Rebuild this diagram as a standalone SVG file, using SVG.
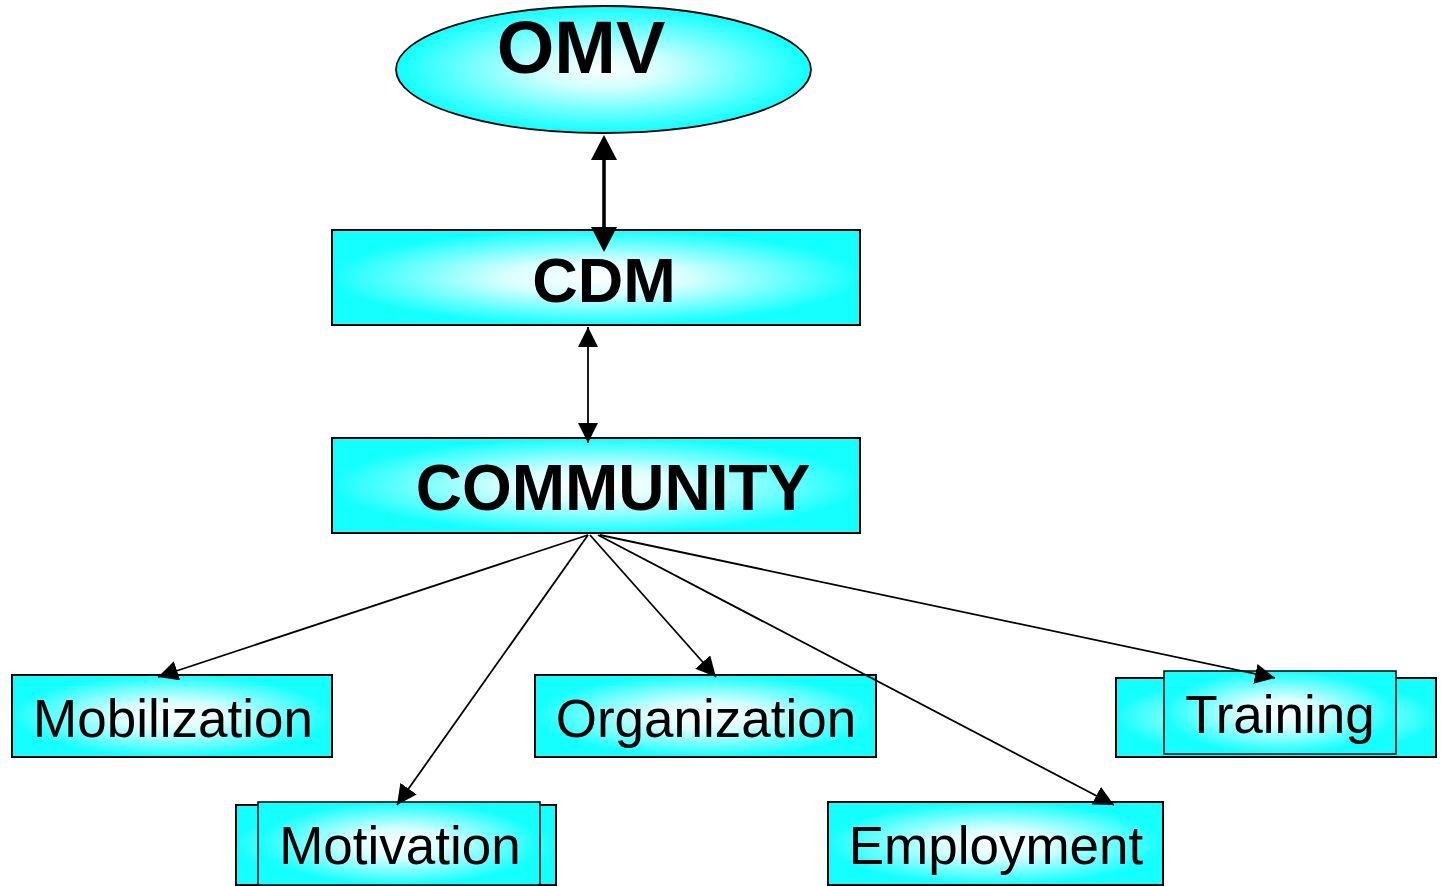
<svg xmlns="http://www.w3.org/2000/svg" width="1441" height="886" viewBox="0 0 1441 886">
  <defs>
    <radialGradient id="glow" cx="0.5" cy="0.5" r="0.5">
      <stop offset="0" stop-color="#ffffff"/>
      <stop offset="0.35" stop-color="#d8ffff"/>
      <stop offset="1" stop-color="#14ffff"/>
    </radialGradient>
    <radialGradient id="glowEllipse" cx="0.5" cy="0.5" r="0.5">
      <stop offset="0" stop-color="#ffffff"/>
      <stop offset="0.3" stop-color="#d0ffff"/>
      <stop offset="1" stop-color="#10ffff"/>
    </radialGradient>
    <marker id="headBold" markerUnits="userSpaceOnUse" markerWidth="26" markerHeight="26" refX="0" refY="13" orient="auto-start-reverse">
      <path d="M0,0 L25,13 L0,26 z" fill="#000"/>
    </marker>
    <marker id="head" markerUnits="userSpaceOnUse" markerWidth="20" markerHeight="20" refX="20" refY="10" orient="auto-start-reverse">
      <path d="M0,0 L20,10 L0,20 z" fill="#000"/>
    </marker>
  </defs>
  <style>
    .box { fill: url(#glow); stroke: #000; stroke-width: 2; }
    .inner { fill: url(#glow); stroke: #111; stroke-width: 1.6; }
    .title { font-family: "Liberation Sans", Arial, sans-serif; font-weight: bold; fill: #000; text-anchor: middle; }
    .label { font-family: "Liberation Sans", Arial, sans-serif; font-size: 53px; fill: #000; text-anchor: middle; }
    .link { stroke: #000; stroke-width: 1.8; fill: none; marker-end: url(#head); }
  </style>

  <g id="omv">
    <ellipse cx="603.5" cy="69.5" rx="207.5" ry="63.5" fill="url(#glowEllipse)" stroke="#000" stroke-width="1.8"/>
    <text class="title" x="581" y="73" font-size="74">OMV</text>
  </g>

  <g id="cdm">
    <rect class="box" x="332" y="230" width="528" height="95"/>
    <text class="title" x="604" y="302" font-size="63">CDM</text>
  </g>

  <g id="community">
    <rect class="box" x="332" y="438" width="528" height="95"/>
    <text class="title" x="613" y="510" font-size="64">COMMUNITY</text>
  </g>

  <g id="mobilization">
    <rect class="box" x="12" y="675" width="320" height="82"/>
    <text class="label" x="173" y="737">Mobilization</text>
  </g>

  <g id="motivation">
    <rect class="box" x="236" y="805" width="320" height="80"/>
    <rect class="inner" x="258" y="802" width="282" height="83"/>
    <text class="label" x="400" y="864">Motivation</text>
  </g>

  <g id="organization">
    <rect class="box" x="535" y="675" width="341" height="82"/>
    <text class="label" x="706" y="737">Organization</text>
  </g>

  <g id="employment">
    <rect class="box" x="828" y="802" width="335" height="83"/>
    <text class="label" x="996" y="864">Employment</text>
  </g>

  <g id="training">
    <rect class="box" x="1116" y="678" width="320" height="79"/>
    <rect class="inner" x="1164" y="671" width="232" height="83"/>
    <text class="label" x="1280" y="733">Training</text>
  </g>

  <g id="connectors">
    <line x1="604" y1="160" x2="604" y2="227" stroke="#000" stroke-width="3.6" marker-start="url(#headBold)" marker-end="url(#headBold)"/>
    <line class="link" x1="588" y1="327" x2="588" y2="443" marker-start="url(#head)"/>
    <line class="link" x1="588" y1="535" x2="158" y2="677"/>
    <line class="link" x1="588" y1="535" x2="397" y2="805"/>
    <line class="link" x1="590" y1="535" x2="716" y2="677"/>
    <line class="link" x1="598" y1="535" x2="1114" y2="805"/>
    <line class="link" x1="600" y1="535" x2="1275" y2="678"/>
  </g>
</svg>
